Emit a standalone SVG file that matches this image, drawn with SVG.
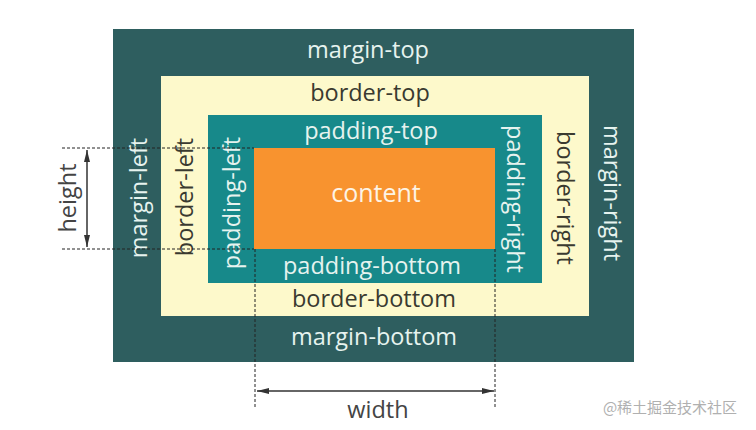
<svg xmlns="http://www.w3.org/2000/svg" width="756" height="430" viewBox="0 0 756 430">
<style>
text{font-family:"Open Sans","Noto Sans",sans-serif;font-size:23.5px;text-anchor:middle}
.lt{fill:#e6f3ef}
.dk{fill:#3a3a30}
.dash{stroke:#222;stroke-width:1;stroke-dasharray:3 2;fill:none}
.dim{stroke:#333;stroke-width:1.5;fill:none}
</style>
<defs>
<marker id="ah" viewBox="0 0 12 6" refX="12" refY="3" markerWidth="12" markerHeight="6" markerUnits="userSpaceOnUse" orient="auto-start-reverse">
<path d="M0,0 L12,3 L0,6 Z" fill="#333"/>
</marker>
</defs>
<rect width="756" height="430" fill="#ffffff"/>
<g id="margin">
<rect x="113" y="29" width="521" height="333" fill="#2e5e5f"/>
<text class="lt" x="368" y="58">margin-top</text>
<text class="lt" x="374" y="345">margin-bottom</text>
<text class="lt" transform="translate(147,198) rotate(-90)">margin-left</text>
<text class="lt" transform="translate(604,193) rotate(90)">margin-right</text>
</g>
<g id="border">
<rect x="161" y="76" width="428" height="240" fill="#fdf9cb"/>
<text class="dk" x="370" y="101">border-top</text>
<text class="dk" x="374" y="307">border-bottom</text>
<text class="dk" transform="translate(193,197) rotate(-90)">border-left</text>
<text class="dk" transform="translate(557,198) rotate(90)">border-right</text>
</g>
<g id="padding">
<rect x="208" y="115" width="334" height="168" fill="#17898a"/>
<text class="lt" x="371" y="139">padding-top</text>
<text class="lt" x="372" y="274">padding-bottom</text>
<text class="lt" transform="translate(240,203) rotate(-90)">padding-left</text>
<text class="lt" transform="translate(507,199) rotate(90)">padding-right</text>
</g>
<g id="content">
<rect x="254" y="148" width="241" height="101" fill="#f8932f"/>
<text class="lt" x="376" y="202" style="font-size:25px;fill:#fdf3e6">content</text>
</g>
<g id="connectors">
<path class="dash" d="M62,148 H254 M62,249 H254 M255,249 V407 M495,249 V407"/>
<path class="dim" d="M87,150 V247" marker-start="url(#ah)" marker-end="url(#ah)"/>
<path class="dim" d="M257,391 H494" marker-start="url(#ah)" marker-end="url(#ah)"/>
</g>
<g id="labels">
<text class="dk" transform="translate(76,198) rotate(-90)" style="fill:#444">height</text>
<text class="dk" x="378" y="418" style="fill:#444">width</text>
<text x="670" y="413" style="font-family:'Noto Sans CJK SC',sans-serif;font-size:15px;fill:#b0b0b0">@稀土掘金技术社区</text>
</g>
</svg>
